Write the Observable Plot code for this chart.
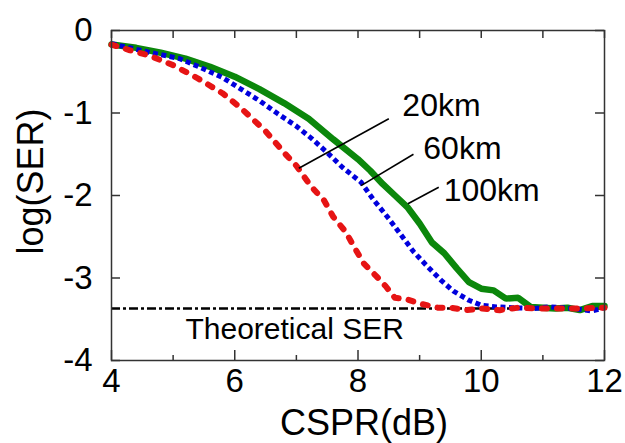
<!DOCTYPE html>
<html><head><meta charset="utf-8">
<script src="https://cdn.jsdelivr.net/npm/d3@7"></script>
<script src="https://cdn.jsdelivr.net/npm/@observablehq/plot@0.6"></script>
<style>body{margin:0;background:#fff}</style>
</head><body><div id="chart"></div>
<script>
// ---- data ----
const xTicks = [4, 6, 8, 10, 12];
const xMinorTicks = [5, 7, 9, 11];
const yTicks = [0, -1, -2, -3, -4];
const theoreticalSER = -3.37;

const km20 = [
  [4.0,-0.17],[4.3,-0.24],[4.6,-0.30],[5.0,-0.42],[5.4,-0.58],[5.8,-0.76],[6.1,-0.94],
  [6.5,-1.22],[6.8,-1.48],[7.0,-1.64],[7.2,-1.85],[7.3,-1.94],[7.45,-2.06],[7.6,-2.26],
  [7.8,-2.44],[7.95,-2.64],[8.1,-2.83],[8.3,-2.98],[8.45,-3.10],[8.6,-3.24],[8.8,-3.26],
  [9.0,-3.31],[9.3,-3.36],[9.5,-3.36],[9.75,-3.39],[10.0,-3.37],[10.3,-3.39],[10.6,-3.36],
  [11.0,-3.37],[11.5,-3.37],[12.0,-3.36]
].map(([x,y]) => ({x, y}));

const km60 = [
  [4.0,-0.16],[4.65,-0.27],[5.1,-0.34],[5.45,-0.45],[5.8,-0.57],[6.1,-0.71],[6.4,-0.85],
  [6.7,-1.01],[7.0,-1.16],[7.25,-1.31],[7.5,-1.48],[7.75,-1.66],[8.05,-1.84],[8.25,-2.05],
  [8.5,-2.28],[8.7,-2.48],[8.9,-2.68],[9.1,-2.84],[9.35,-3.03],[9.55,-3.16],[9.8,-3.27],
  [10.0,-3.33],[10.25,-3.35],[10.5,-3.36],[10.85,-3.37],[11.1,-3.35],[11.5,-3.37],
  [11.8,-3.40],[12.0,-3.36]
].map(([x,y]) => ({x, y}));

const km100 = [
  [4.0,-0.17],[4.4,-0.21],[4.8,-0.27],[5.2,-0.34],[5.6,-0.44],[6.0,-0.56],[6.4,-0.71],
  [6.8,-0.88],[7.2,-1.07],[7.6,-1.32],[8.0,-1.56],[8.2,-1.70],[8.4,-1.86],[8.6,-2.00],
  [8.8,-2.14],[9.0,-2.34],[9.2,-2.57],[9.4,-2.70],[9.6,-2.88],[9.8,-3.05],[10.0,-3.13],
  [10.2,-3.15],[10.4,-3.25],[10.6,-3.24],[10.8,-3.35],[11.0,-3.36],[11.2,-3.37],
  [11.4,-3.36],[11.6,-3.39],[11.8,-3.34],[12.0,-3.34]
].map(([x,y]) => ({x, y}));

const seriesLabels = ["20km", "60km", "100km"];
const leaderStart = [[7.04,-1.67],[8.05,-1.88],[8.81,-2.10]];
const leaderEnd   = [[8.50,-1.07],[8.90,-1.50],[9.31,-1.90]];
const labelPos    = [[8.72,-0.91],[9.06,-1.43],[9.39,-1.94]];
const annotations = seriesLabels.map((label, i) => ({
  label,
  x1: leaderStart[i][0], y1: leaderStart[i][1],
  x2: leaderEnd[i][0], y2: leaderEnd[i][1],
  tx: labelPos[i][0], ty: labelPos[i][1]
}));
const theoLabel = [{text: "Theoretical SER", x: 5.2, y: -3.62}];

// ---- layout ----
const W = 625, H = 443, mL = 111, mR = 21, mT = 30, mB = 83;
const fH = H - mT - mB, fW = W - mL - mR;
const font = "'Liberation Sans', Arial, Helvetica, sans-serif";

const chart = Plot.plot({
  width: W, height: H,
  marginLeft: mL, marginRight: mR, marginTop: mT, marginBottom: mB,
  style: {fontFamily: font, background: "#fff", color: "#000"},
  x: {domain: [4, 12]},
  y: {domain: [-4, 0]},
  marks: [
    Plot.ruleY([theoreticalSER], {stroke: "#000", strokeWidth: 2.6, strokeDasharray: "9,3,3,3"}),
    Plot.line(km100, {x: "x", y: "y", stroke: "#0b870b", strokeWidth: 6.5, strokeLinejoin: "miter"}),
    Plot.line(km60, {x: "x", y: "y", stroke: "#0000dd", strokeWidth: 5, strokeDasharray: "5,3.5", strokeLinecap: "butt"}),
    Plot.line(km20, {x: "x", y: "y", stroke: "#e61414", strokeWidth: 6, strokeDasharray: "5,10", strokeLinecap: "round"}),
    Plot.link(annotations, {x1: "x1", y1: "y1", x2: "x2", y2: "y2", stroke: "#000", strokeWidth: 1.6}),
    Plot.text(annotations, {x: "tx", y: "ty", text: "label", textAnchor: "start", fontSize: 32, fill: "#000"}),
    Plot.text(theoLabel, {x: "x", y: "y", text: "text", textAnchor: "start", fontSize: 30, fill: "#000"}),
    // inward ticks
    Plot.tickX(xTicks, {x: d => d, insetTop: fH - 10, stroke: "#333", strokeWidth: 1.5}),
    Plot.tickX(xMinorTicks, {x: d => d, insetTop: fH - 5, stroke: "#333", strokeWidth: 1.5}),
    Plot.tickX([...xTicks, ...xMinorTicks], {x: d => d, insetBottom: fH - 8, stroke: "#333", strokeWidth: 1.5}),
    Plot.tickY(yTicks, {y: d => d, insetRight: fW - 9, stroke: "#333", strokeWidth: 1.5}),
    Plot.tickY(yTicks, {y: d => d, insetLeft: fW - 9, stroke: "#333", strokeWidth: 1.5}),
    Plot.frame({stroke: "#333", strokeWidth: 1.5}),
    Plot.axisX(xTicks, {tickSize: 0, tickPadding: 8, fontSize: 33, label: null, tickFormat: d => String(d)}),
    Plot.axisY(yTicks, {tickSize: 0, tickPadding: 19, fontSize: 33, label: null, tickFormat: d => String(d)}),
    Plot.text(["CSPR(dB)"], {frameAnchor: "bottom", lineAnchor: "middle", textAnchor: "middle", dx: 6, dy: 63, fontSize: 36, fill: "#000"}),
    Plot.text(["log(SER)"], {frameAnchor: "left", textAnchor: "middle", lineAnchor: "middle", dx: -80, dy: -14, rotate: -90, fontSize: 36, fill: "#000"})
  ]
});
document.getElementById("chart").append(chart);
</script>
</body></html>
